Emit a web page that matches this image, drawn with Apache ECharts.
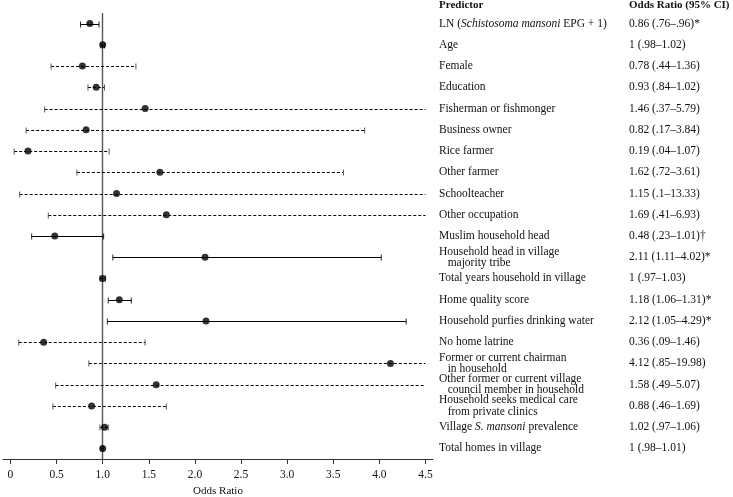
<!DOCTYPE html>
<html>
<head>
<meta charset="utf-8">
<script src="https://cdn.jsdelivr.net/npm/echarts@6/dist/echarts.min.js"></script>
<style>
  html, body { margin: 0; padding: 0; background: #fff; }
  #main { width: 733px; height: 497px; }
</style>
</head>
<body>
<div id="main"></div>
<script>
// predictors, top to bottom
var predictors = [
  'LN (Schistosoma mansoni EPG + 1)',
  'Age',
  'Female',
  'Education',
  'Fisherman or fishmonger',
  'Business owner',
  'Rice farmer',
  'Other farmer',
  'Schoolteacher',
  'Other occupation',
  'Muslim household head',
  'Household head in village\n   majority tribe',
  'Total years household in village',
  'Home quality score',
  'Household purfies drinking water',
  'No home latrine',
  'Former or current chairman\n   in household',
  'Other former or current village\n   council member in household',
  'Household seeks medical care\n   from private clinics',
  'Village S. mansoni prevalence',
  'Total homes in village'
];
var oddsRatio = [0.86, 1, 0.78, 0.93, 1.46, 0.82, 0.19, 1.62, 1.15, 1.69, 0.48, 2.11, 1, 1.18, 2.12, 0.36, 4.12, 1.58, 0.88, 1.02, 1];
var ciLow  = [0.76, 0.98, 0.44, 0.84, 0.37, 0.17, 0.04, 0.72, 0.1, 0.41, 0.23, 1.11, 0.97, 1.06, 1.05, 0.09, 0.85, 0.49, 0.46, 0.97, 0.98];
var ciHigh = [0.96, 1.02, 1.36, 1.02, 5.79, 3.84, 1.07, 3.61, 13.33, 6.93, 1.01, 4.02, 1.03, 1.31, 4.29, 1.46, 19.98, 5.07, 1.69, 1.06, 1.01];
// * or † in the table -> solid CI line
var significant = [1, 0, 0, 0, 0, 0, 0, 0, 0, 0, 1, 1, 0, 1, 1, 0, 0, 0, 0, 0, 0];
var orText = [
  '0.86 (.76–.96)*', '1 (.98–1.02)', '0.78 (.44–1.36)', '0.93 (.84–1.02)',
  '1.46 (.37–5.79)', '0.82 (.17–3.84)', '0.19 (.04–1.07)', '1.62 (.72–3.61)',
  '1.15 (.1–13.33)', '1.69 (.41–6.93)', '0.48 (.23–1.01)†', '2.11 (1.11–4.02)*',
  '1 (.97–1.03)', '1.18 (1.06–1.31)*', '2.12 (1.05–4.29)*', '0.36 (.09–1.46)',
  '4.12 (.85–19.98)', '1.58 (.49–5.07)', '0.88 (.46–1.69)', '1.02 (.97–1.06)',
  '1 (.98–1.01)'
];
var tickValues = [0, 0.5, 1, 1.5, 2, 2.5, 3, 3.5, 4, 4.5];
var tickLabels = ['0', '0.5', '1.0', '1.5', '2.0', '2.5', '3.0', '3.5', '4.0', '4.5'];

var FONT = '"Liberation Serif", "DejaVu Serif", serif';
var FS = 11.5;
var XCAP = 4.5; // CIs are cut at the end of the axis

var ciData = predictors.map(function (p, i) {
  return [ciLow[i], ciHigh[i], i, significant[i]];
});
var pointData = predictors.map(function (p, i) {
  return [oddsRatio[i], i];
});

function italicize(s) {
  return s.replace('Schistosoma mansoni', '{i|Schistosoma mansoni}')
          .replace('S. mansoni', '{i|S. mansoni}');
}

var chart = echarts.init(document.getElementById('main'));
chart.setOption({
  animation: false,
  title: [
    { text: 'Predictor', left: 439, top: 0, padding: 0,
      textStyle: { fontFamily: FONT, fontSize: 11, fontWeight: 'bold', color: '#111' } },
    { text: 'Odds Ratio (95% CI)', left: 629, top: 0, padding: 0,
      textStyle: { fontFamily: FONT, fontSize: 11, fontWeight: 'bold', color: '#111' } }
  ],
  grid: { left: 3, right: 300, top: 13, bottom: 38, outerBoundsMode: 'none' },
  xAxis: {
    type: 'value',
    min: -0.081,
    max: 4.581,
    name: 'Odds Ratio',
    nameLocation: 'middle',
    nameGap: 27,
    nameTextStyle: { fontFamily: FONT, fontSize: 11, color: '#111' },
    splitLine: { show: false },
    axisLine: { show: true, lineStyle: { color: '#333', width: 1 } },
    axisTick: { show: true, length: 5, customValues: tickValues, lineStyle: { color: '#333' } },
    axisLabel: {
      customValues: tickValues,
      margin: 10,
      fontFamily: FONT, fontSize: FS, color: '#111',
      formatter: function (v) { return tickLabels[tickValues.indexOf(v)]; }
    }
  },
  yAxis: [
    {
      type: 'category',
      inverse: true,
      data: predictors,
      position: 'right',
      axisLine: { show: false },
      axisTick: { show: false },
      splitLine: { show: false },
      axisLabel: {
        margin: 6,
        align: 'left',
        fontFamily: FONT, fontSize: FS, color: '#111', lineHeight: 11.5,
        formatter: italicize,
        rich: { i: { fontFamily: FONT, fontSize: FS, fontStyle: 'italic', color: '#111', lineHeight: 11.5 } }
      }
    },
    {
      type: 'category',
      inverse: true,
      data: orText,
      position: 'right',
      offset: 190,
      axisLine: { show: false },
      axisTick: { show: false },
      splitLine: { show: false },
      axisLabel: { margin: 6, align: 'left', fontFamily: FONT, fontSize: FS, color: '#111' }
    }
  ],
  series: [
    {
      type: 'custom',
      clip: false,
      silent: true,
      data: ciData,
      encode: { x: [0, 1], y: 2 },
      renderItem: function (params, api) {
        var lo = api.value(0), hi = api.value(1), row = api.value(2);
        var solid = api.value(3) === 1;
        var a = api.coord([lo, row]);
        var b = api.coord([Math.min(hi, XCAP), row]);
        var y = Math.round(a[1]) + 0.5;
        var style = { stroke: '#000', lineWidth: 1, lineDash: solid ? null : [3, 2] };
        var capStyle = { stroke: solid ? '#222' : '#555', lineWidth: 1 };
        var h = 3;
        var children = [
          { type: 'line', shape: { x1: a[0], y1: y, x2: b[0], y2: y }, style: style },
          { type: 'line', shape: { x1: a[0], y1: y - h, x2: a[0], y2: y + h }, style: capStyle }
        ];
        if (hi <= XCAP) {
          children.push({ type: 'line', shape: { x1: b[0], y1: y - h, x2: b[0], y2: y + h }, style: capStyle });
        }
        return { type: 'group', children: children };
      },
      z: 2
    },
    {
      type: 'scatter',
      data: pointData,
      symbol: 'circle',
      symbolSize: 7,
      itemStyle: { color: '#000' },
      silent: true,
      z: 3,
      markLine: {
        silent: true,
        symbol: 'none',
        label: { show: false },
        lineStyle: { color: '#555', width: 1.4, type: 'solid' },
        data: [{ xAxis: 1 }],
        z: 1
      }
    }
  ]
});
</script>
</body>
</html>
